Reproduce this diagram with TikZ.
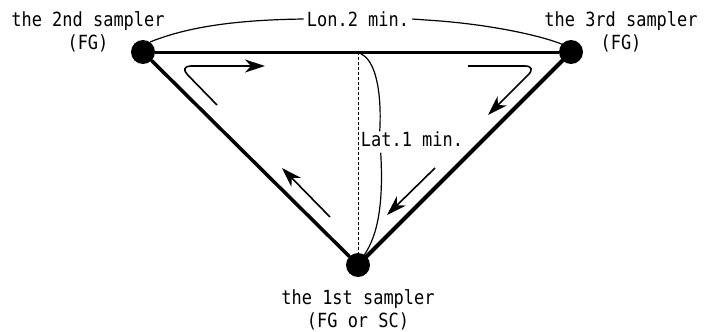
\documentclass[tikz,border=0pt]{standalone}
\usepackage{fontspec}
\usepackage{tikz}
\usetikzlibrary{arrows.meta,calc,positioning}
\newfontfamily\smpfont[FakeStretch=0.87]{DejaVu Sans Mono}

\begin{document}
\begin{tikzpicture}[
      x=1pt,y=-1pt,
      font=\smpfont\fontsize{19.5}{23}\selectfont,
      dot/.style={circle,fill=black,minimum size=24pt,inner sep=0pt},
      lab/.style={align=center,inner sep=0pt},
      edge/.style={line width=3.5pt,line cap=round},
      span/.style={line width=1.2pt},
      flow/.style={-{Stealth[length=20pt,width=13pt,inset=6pt]},line width=1.6pt}
    ]
    \useasboundingbox (0,0) rectangle (705,332);
    \node[dot] (s2) at (143,52) {};
    \node[dot] (s3) at (571,52) {};
    \node[dot] (s1) at (358,265) {};
    \coordinate (mid) at (358,52);
    \node[lab] (s2lab) at (88,32) {the 2nd sampler\\(FG)};
    \node[lab] (s3lab) at (621,32) {the 3rd sampler\\(FG)};
    \node[lab,below=12pt of s1] (s1lab) {the 1st sampler\\(FG or SC)};
    \node[lab,inner xsep=3pt] (lon) at (358,19) {Lon.2 min.};
    \node[lab,inner xsep=1pt] (lat) at (412,139) {Lat.1 min.};

    % triangle
    \draw[line width=3pt] (s2) -- (s3);
    \draw[edge] (s2) -- (s1);
    \draw[edge,line width=4pt] (s3) -- (s1);
    \draw[densely dashed,line width=1pt] (mid) -- (s1);

    % distances
    \draw[span] (150,42) .. controls (185,28) and (230,20) .. (lon.west);
    \draw[span] (lon.east) -- ++(28,2) .. controls (490,25) and (540,35) .. (564,45);
    \draw[span] (361,54) .. controls (375,60) and (382,90) ..
      ([xshift=20pt]lat.north west);
    \draw[span] ([xshift=21pt,yshift=-6pt]lat.south west)
      .. controls (384,210) and (376,240) .. (362,258);

    % direction of travel
    \coordinate (a1) at (217,105);
    \coordinate (a2) at (265,66);
    \coordinate (b1) at (468,66);
    \coordinate (b2) at (488,115);
    \coordinate (c1) at (435,168);
    \coordinate (c2) at (387,215);
    \coordinate (d1) at (330,217);
    \coordinate (d2) at (282,168);
    \draw[flow,rounded corners=12pt] (a1) -- (179,66) -- (a2);
    \draw[flow,rounded corners=12pt] (b1) -- (537,66) -- (b2);
    \draw[flow] (c1) -- (c2);
    \draw[flow] (d1) -- (d2);
  \end{tikzpicture}
\end{document}
